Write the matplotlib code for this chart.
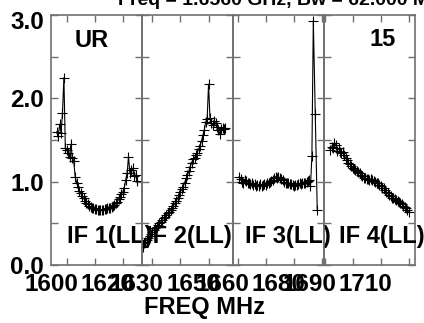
import matplotlib
matplotlib.use("Agg")
import matplotlib.pyplot as plt
import matplotlib.transforms as mtransforms

plt.rcParams['font.family'] = ['Liberation Sans', 'DejaVu Sans']
plt.rcParams['font.weight'] = 'bold'

# channel frequencies (MHz) and amplitudes for each IF
if1_freq = [1596.5, 1597.0, 1597.5, 1598.0, 1598.5, 1599.0, 1599.5, 1600.0, 1600.5, 1601.0,
            1601.5, 1602.0, 1602.5, 1603.0, 1603.5, 1604.0, 1604.5, 1605.0, 1605.5, 1606.0,
            1606.5, 1607.0, 1607.5, 1608.0, 1608.5, 1609.0, 1609.5, 1610.0, 1610.5, 1611.0,
            1611.5, 1612.0, 1612.5, 1613.0, 1613.5, 1614.0, 1614.5, 1615.0, 1615.5, 1616.0,
            1616.5, 1617.0, 1617.5, 1618.0, 1618.5, 1619.0, 1619.5, 1620.0, 1620.5, 1621.0,
            1621.5, 1622.0, 1622.5, 1623.0, 1623.5, 1624.0, 1624.5, 1625.0]
if1_amp = [1.60, 1.55, 1.69, 1.58, 1.83, 2.25, 1.41, 1.38, 1.34, 1.30,
           1.45, 1.28, 1.25, 1.06, 0.99, 0.94, 0.89, 0.86, 0.83, 0.80,
           0.77, 0.75, 0.73, 0.71, 0.70, 0.69, 0.68, 0.67, 0.67, 0.66,
           0.66, 0.66, 0.66, 0.66, 0.67, 0.67, 0.68, 0.68, 0.69, 0.70,
           0.71, 0.72, 0.74, 0.76, 0.79, 0.82, 0.85, 0.88, 0.93, 1.02,
           1.10, 1.30, 1.10, 1.14, 1.16, 1.07, 1.08, 1.01]

if2_freq = [1626.5, 1627.0, 1627.5, 1628.0, 1628.5, 1629.0, 1629.5, 1630.0, 1630.5, 1631.0,
            1631.5, 1632.0, 1632.5, 1633.0, 1633.5, 1634.0, 1634.5, 1635.0, 1635.5, 1636.0,
            1636.5, 1637.0, 1637.5, 1638.0, 1638.5, 1639.0, 1639.5, 1640.0, 1640.5, 1641.0,
            1641.5, 1642.0, 1642.5, 1643.0, 1643.5, 1644.0, 1644.5, 1645.0, 1645.5, 1646.0,
            1646.5, 1647.0, 1647.5, 1648.0, 1648.5, 1649.0, 1649.5, 1650.0, 1650.5, 1651.0,
            1651.5, 1652.0, 1652.5, 1653.0, 1653.5, 1654.0, 1654.5, 1655.0, 1655.5, 1656.0]
if2_amp = [0.22, 0.26, 0.28, 0.30, 0.33, 0.35, 0.37, 0.40, 0.42, 0.44,
           0.46, 0.48, 0.50, 0.52, 0.54, 0.56, 0.58, 0.60, 0.62, 0.64,
           0.66, 0.68, 0.71, 0.74, 0.77, 0.80, 0.84, 0.88, 0.91, 0.94,
           0.99, 1.04, 1.08, 1.13, 1.18, 1.23, 1.27, 1.29, 1.32, 1.35,
           1.39, 1.43, 1.49, 1.56, 1.62, 1.72, 1.75, 2.17, 1.77, 1.70,
           1.68, 1.73, 1.70, 1.66, 1.62, 1.57, 1.63, 1.65, 1.63, 1.64]

if3_freq = [1660.5, 1661.0, 1661.5, 1662.0, 1662.5, 1663.0, 1663.5, 1664.0, 1664.5, 1665.0,
            1665.5, 1666.0, 1666.5, 1667.0, 1667.5, 1668.0, 1668.5, 1669.0, 1669.5, 1670.0,
            1670.5, 1671.0, 1671.5, 1672.0, 1672.5, 1673.0, 1673.5, 1674.0, 1674.5, 1675.0,
            1675.5, 1676.0, 1676.5, 1677.0, 1677.5, 1678.0, 1678.5, 1679.0, 1679.5, 1680.0,
            1680.5, 1681.0, 1681.5, 1682.0, 1682.5, 1683.0, 1683.5, 1684.0, 1684.5, 1685.0,
            1685.5, 1685.9, 1686.4, 1686.9, 1687.6, 1688.3]
if3_amp = [1.06, 1.03, 1.00, 0.99, 1.02, 1.01, 0.98, 0.99, 0.97, 0.98,
           0.96, 0.97, 0.95, 0.96, 0.95, 0.97, 0.95, 0.96, 0.97, 0.96,
           0.98, 0.98, 1.00, 1.01, 1.02, 1.04, 1.06, 1.05, 1.06, 1.04,
           1.03, 1.02, 1.00, 0.99, 0.99, 0.98, 0.97, 0.97, 0.96, 0.95,
           0.96, 0.96, 0.97, 0.98, 0.97, 0.99, 0.98, 0.99, 1.00, 1.01,
           1.02, 0.95, 1.31, 2.93, 1.81, 0.66]

if4_freq = [1692.0, 1692.5, 1693.0, 1693.5, 1694.0, 1694.5, 1695.0, 1695.5, 1696.0, 1696.5,
            1697.0, 1697.5, 1698.0, 1698.5, 1699.0, 1699.5, 1700.0, 1700.5, 1701.0, 1701.5,
            1702.0, 1702.5, 1703.0, 1703.5, 1704.0, 1704.5, 1705.0, 1705.5, 1706.0, 1706.5,
            1707.0, 1707.5, 1708.0, 1708.5, 1709.0, 1709.5, 1710.0, 1710.5, 1711.0, 1711.5,
            1712.0, 1712.5, 1713.0, 1713.5, 1714.0, 1714.5, 1715.0, 1715.5, 1716.0, 1716.5,
            1717.0, 1717.5, 1718.0, 1718.5, 1719.0, 1719.5, 1720.0]
if4_amp = [1.38, 1.42, 1.40, 1.47, 1.44, 1.37, 1.40, 1.36, 1.34, 1.36,
           1.32, 1.28, 1.26, 1.23, 1.21, 1.19, 1.17, 1.15, 1.14, 1.13,
           1.12, 1.10, 1.08, 1.07, 1.05, 1.04, 1.03, 1.03, 1.02, 1.03,
           1.02, 1.01, 1.00, 0.99, 0.98, 0.96, 0.95, 0.93, 0.92, 0.90,
           0.88, 0.86, 0.84, 0.83, 0.81, 0.80, 0.79, 0.78, 0.77, 0.76,
           0.74, 0.73, 0.71, 0.70, 0.68, 0.66, 0.64]

freqs = [if1_freq, if2_freq, if3_freq, if4_freq]
amps = [if1_amp, if2_amp, if3_amp, if4_amp]
xlims = [(1594.3, 1626.7), (1626.2, 1658.6), (1658.2, 1690.6), (1689.7, 1722.1)]
xticks = [[1600, 1610, 1620], [1630, 1640, 1650], [1660, 1670, 1680, 1690], [1690, 1700, 1710, 1720]]
xticklabels = [['1600', '', '1620'], ['1630', '', '1650'], ['1660', '', '1680', ''], ['1690', '', '1710', '']]
if_labels = ['IF 1(LL)', 'IF 2(LL)', 'IF 3(LL)', 'IF 4(LL)']
if_label_x = [0.176, 0.045, 0.13, 0.165]
yticks = [0.0, 0.5, 1.0, 1.5, 2.0, 2.5, 3.0]
yticklabels = ['0.0', '', '1.0', '', '2.0', '', '3.0']

fig = plt.figure(figsize=(4.24, 3.23), dpi=100)

left, width = 50.7 / 424, 91.0 / 424
bottom, height = 1 - 265 / 323, 250 / 323
axis_col = '#707070'
big = 17

for i in range(4):
    ax = fig.add_axes([left + i * width, bottom, width, height])
    ax.set_facecolor('none')
    ax.plot(freqs[i], amps[i], color='black', lw=0.8, marker='+', ms=7, mew=0.8)
    ax.set_xlim(*xlims[i])
    ax.set_ylim(0, 3.0)
    ax.set_xticks(xticks[i])
    ax.set_xticklabels(xticklabels[i], fontsize=17.5, fontweight='bold')
    ax.set_yticks(yticks)
    if i == 0:
        ax.set_yticklabels(yticklabels, fontsize=17.5, fontweight='bold')
    else:
        ax.set_yticklabels([])
    ax.tick_params(direction='in', length=5, width=1, color=axis_col,
                   top=True, right=True, pad=5)
    ax.tick_params(axis='x', pad=6)
    for sp in ax.spines.values():
        sp.set_color(axis_col)
        sp.set_linewidth(1.2)
    # x labels sit left of their ticks
    shift = mtransforms.ScaledTranslation(-15.5 / 100, 0, fig.dpi_scale_trans)
    for lab in ax.get_xticklabels():
        lab.set_transform(lab.get_transform() + shift)
    if i == 0:
        # keep the top y label inside the page
        down = mtransforms.ScaledTranslation(0, -5 / 100, fig.dpi_scale_trans)
        top_lab = ax.get_yticklabels()[-1]
        top_lab.set_transform(top_lab.get_transform() + down)
    ax.text(if_label_x[i], 0.088, if_labels[i], transform=ax.transAxes,
            fontsize=big, fontweight='bold', ha='left', va='baseline', clip_on=False)
    if i == 0:
        ax.text((75 - 50.7) / 91, (265 - 47) / 250, 'UR', transform=ax.transAxes,
                fontsize=big, fontweight='bold', ha='left', va='baseline')
    if i == 3:
        ax.text((368 - 322) / 91, (265 - 46) / 250, '15', transform=ax.transAxes,
                fontsize=big, fontweight='bold', ha='left', va='baseline')

fig.text(118 / 424, 1 - 5 / 323, 'Freq = 1.6560 GHz, Bw = 62.000 MHz',
         fontsize=14, fontweight='bold', ha='left', va='baseline')
fig.text(204 / 424, 1 - 307.5 / 323, 'FREQ MHz', fontsize=17, fontweight='bold',
         ha='center', va='center')

fig.savefig('out.png', dpi=100)
